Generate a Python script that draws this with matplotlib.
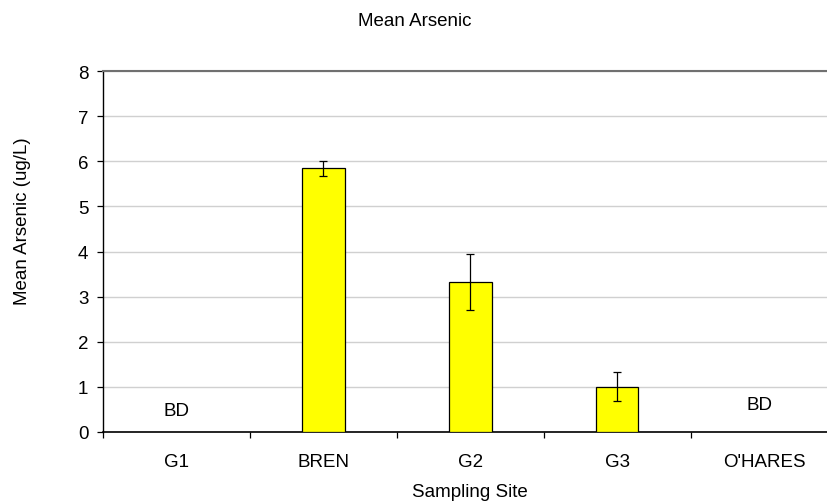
import numpy as np
import matplotlib.pyplot as plt

plt.rcParams['font.family'] = ['Liberation Sans', 'DejaVu Sans']

# chart data
sites = ["G1", "BREN", "G2", "G3", "O'HARES"]
mean_arsenic = [0.0, 5.84, 3.33, 1.0, 0.0]
arsenic_err = [0.0, 0.16, 0.62, 0.32, 0.0]
bd_sites = [0, 4]
bd_levels = [0.47, 0.6]
y_ticks = [0, 1, 2, 3, 4, 5, 6, 7, 8]

fs = 13.5

fig = plt.figure(figsize=(8.27, 5.02), dpi=100)
ax = fig.add_axes([0.1242, 0.1375, 0.8887, 0.719])

x = np.arange(len(sites))
# only draw bars that have a value (BD sites are below detection)
has_value = [i for i in range(len(sites)) if mean_arsenic[i] > 0]
ax.bar(x[has_value], [mean_arsenic[i] for i in has_value], width=0.29,
       color='#ffff00', edgecolor='black', linewidth=0.9, zorder=3)
ax.errorbar(x[has_value], [mean_arsenic[i] for i in has_value],
            yerr=[arsenic_err[i] for i in has_value], fmt='none',
            ecolor='black', elinewidth=0.9, capsize=3, capthick=0.9, zorder=4)

for s, lv in zip(bd_sites, bd_levels):
    ax.text(s - (0.03 if s == 4 else 0), lv, "BD", ha='center', va='center', fontsize=fs)

ax.set_xlim(-0.5, len(sites) - 0.5)
ax.set_ylim(0, 8)
ax.set_yticks(y_ticks)
ax.yaxis.grid(True, color='#d0d0d0', linewidth=1, zorder=0)
ax.set_axisbelow(True)

# category ticks sit between the sites, labels in the middle
ax.set_xticks(np.arange(-0.5, len(sites), 1.0))
ax.set_xticklabels([])
ax.set_xticks(x, minor=True)
ax.set_xticklabels(sites, minor=True)
ax.tick_params(axis='x', which='major', direction='out', length=4.3, width=0.9, color='black')
ax.tick_params(axis='x', which='minor', length=0, pad=15, labelsize=fs)
ax.tick_params(axis='y', direction='out', length=4.3, width=0.9, pad=6, labelsize=fs)

ax.spines['right'].set_visible(False)
ax.spines['top'].set_color('#707070')
ax.spines['top'].set_linewidth(1.5)
ax.spines['left'].set_color('black')
ax.spines['bottom'].set_color('black')
ax.spines['left'].set_linewidth(1.0)
ax.spines['bottom'].set_linewidth(1.2)

fig.text(0.5015, 0.9488, "Mean Arsenic", ha='center', va='baseline', fontsize=fs)
fig.text(0.5677, 0.009, "Sampling Site", ha='center', va='baseline', fontsize=fs)
fig.text(0.0272, 0.56, "Mean Arsenic (ug/L)", ha='center', va='center',
         rotation=90, fontsize=fs)

plt.savefig("out.png", dpi=100)
